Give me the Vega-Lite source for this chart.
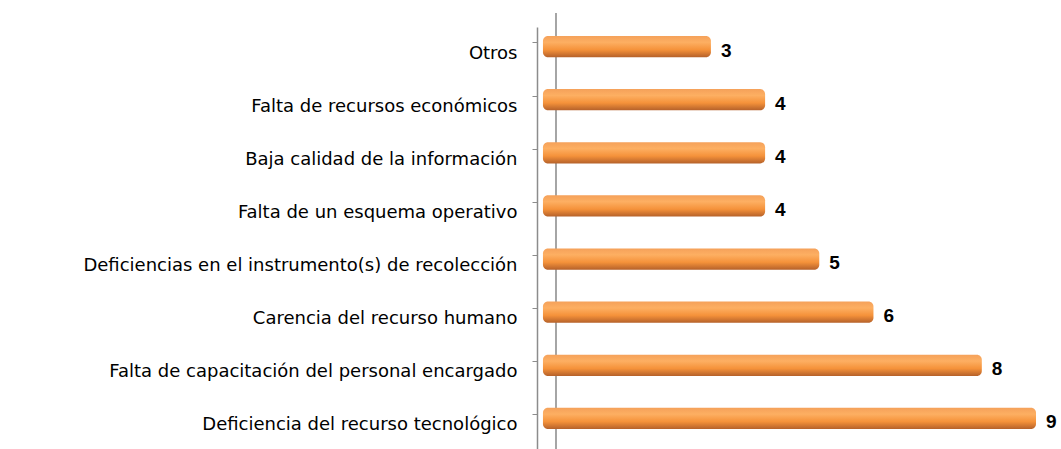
{
  "$schema": "https://vega.github.io/schema/vega-lite/v6.json",
  "autosize": {"type": "none"},
  "width": 499,
  "height": 425,
  "padding": {"left": 537, "top": 27, "right": 25, "bottom": 0},
  "background": "white",
  "config": {"view": {"stroke": null}, "font": "Liberation Sans"},
  "data": {"values": [
    {"causa": "Otros", "valor": 3},
    {"causa": "Falta de recursos económicos", "valor": 4},
    {"causa": "Baja calidad de la información", "valor": 4},
    {"causa": "Falta de un esquema operativo", "valor": 4},
    {"causa": "Deficiencias en el instrumento(s) de recolección", "valor": 5},
    {"causa": "Carencia del recurso humano", "valor": 6},
    {"causa": "Falta de capacitación del personal encargado", "valor": 8},
    {"causa": "Deficiencia del recurso tecnológico", "valor": 9}
  ]},
  "encoding": {
    "y": {
      "field": "causa", "type": "nominal", "sort": null,
      "scale": {"paddingInner": 0.6, "paddingOuter": 0.3},
      "axis": {
        "title": null, "bandPosition": 0, "domainColor": "#8C8C8C", "domainWidth": 1.5,
        "tickColor": "#8C8C8C", "tickSize": 5, "labelPadding": 15,
        "labelFontSize": 18, "labelColor": "#000000", "labelFont": "DejaVu Sans",
        "labelLimit": 600
      }
    },
    "x": {
      "field": "valor", "type": "quantitative",
      "scale": {"domain": [-0.21, 9], "nice": false, "zero": false},
      "axis": null
    }
  },
  "layer": [
    {
      "mark": {"type": "rule", "color": "#A6A6A6", "strokeWidth": 1.5, "yOffset": -14},
      "encoding": {"x": {"datum": 0.14}, "y": null}
    },
    {
      "mark": {
        "type": "bar", "yOffset": -7, "cornerRadius": 5,
        "color": {
          "gradient": "linear", "x1": 0, "y1": 0, "x2": 0, "y2": 1,
          "stops": [
            {"offset": 0, "color": "#F5A15A"},
            {"offset": 0.3, "color": "#FDAF62"},
            {"offset": 0.65, "color": "#F5923A"},
            {"offset": 1, "color": "#B5612A"}
          ]
        }
      },
      "encoding": {"x2": {"datum": -0.1}}
    },
    {
      "mark": {"type": "text", "align": "left", "baseline": "middle", "dx": 10, "yOffset": -3,
               "fontSize": 19, "fontWeight": "bold", "color": "#000000"},
      "encoding": {"text": {"field": "valor", "type": "quantitative"}}
    }
  ]
}
